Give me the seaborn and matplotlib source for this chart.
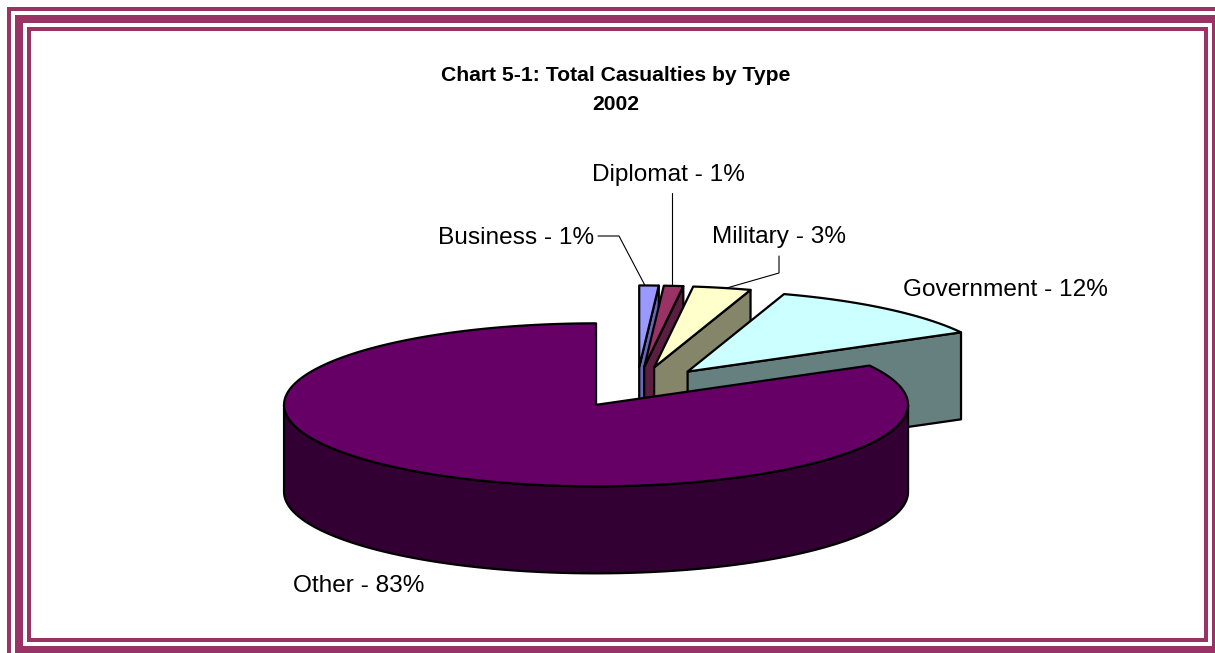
import numpy as np
import matplotlib
matplotlib.use("Agg")
import matplotlib.pyplot as plt
from matplotlib.patches import Polygon, Rectangle
import seaborn as sns

# ---- data -------------------------------------------------------------
categories = ["Business", "Diplomat", "Military", "Government", "Other"]
shares = [1, 1, 3, 12, 83]          # percent of total casualties, 2002
title_lines = ["Chart 5-1: Total Casualties by Type", "2002"]

top_colors = ["#9999FF", "#993366", "#FFFFCC", "#CCFFFF", "#660066"]
side_colors = ["#6868B6", "#5A1F40", "#858569", "#668080", "#330033"]
frame_color = "#993366"

# ---- style ------------------------------------------------------------
sns.set_theme(style="white")
plt.rcParams["font.family"] = ["Liberation Sans", "DejaVu Sans"]
top_pal = sns.color_palette(top_colors)
side_pal = sns.color_palette(side_colors)

W, H = 1215, 653
fig = plt.figure(figsize=(W / 100, H / 100), dpi=100)
ax = fig.add_axes([0, 0, 1, 1])
ax.set_xlim(0, W)
ax.set_ylim(H, 0)
ax.axis("off")

# ---- triple frame -----------------------------------------------------
def band(x0, y0, x1, y1, color, z):
    ax.add_patch(Rectangle((x0, y0), x1 - x0, y1 - y0, facecolor=color,
                           edgecolor="none", zorder=z, clip_on=False))

band(7, 7, 1232, 672, frame_color, 0)
band(11, 11, 1228, 668, "white", 0.1)
band(15, 15, 1220, 654, frame_color, 0.2)
band(23, 23, 1212, 646, "white", 0.3)
band(27, 27, 1208, 642, frame_color, 0.4)
band(31, 31, 1204, 638, "white", 0.5)

# ---- exploded 3-D pie -------------------------------------------------
CX, CY = 636.7, 387.3     # centre of the top ellipse before exploding
RX, RY = 312.0, 81.5      # ellipse radii
DEPTH = 87.0              # thickness of the pie
EXPLODE_X, EXPLODE_Y = 0.256, 0.25   # radial offset as a fraction of the radius
LW = 1.6

vals = np.asarray(shares, dtype=float)
bounds = np.concatenate([[0.0], np.cumsum(vals)]) / vals.sum() * 360.0


def rim(px, py, deg):
    t = np.radians(deg)
    return px + RX * np.sin(t), py - RY * np.cos(t)


def arc(px, py, d0, d1):
    n = max(int(abs(d1 - d0) * 2), 2)
    d = np.linspace(d0, d1, n)
    x, y = rim(px, py, d)
    return np.column_stack([x, y])


def face(points, color, z):
    ax.add_patch(Polygon(points, closed=True, facecolor=color,
                         edgecolor="black", linewidth=LW,
                         joinstyle="round", zorder=z))


apexes = []
for i, (t0, t1) in enumerate(zip(bounds[:-1], bounds[1:])):
    mid = np.radians((t0 + t1) / 2)
    px = CX + EXPLODE_X * RX * np.sin(mid)
    py = CY - EXPLODE_Y * RY * np.cos(mid)
    apexes.append((px, py))
    z = 2 + i

    # curved outer wall facing the viewer (front half of the ellipse)
    a0, a1 = max(t0, 90.0), min(t1, 270.0)
    if a1 > a0:
        upper = arc(px, py, a0, a1)
        lower = upper[::-1] + [0, DEPTH]
        face(np.vstack([upper, lower]), side_pal[i], z)

    # radial cut faces that turn toward the viewer
    for ang, visible in ((t1, np.sin(np.radians(t1)) > 1e-6),
                         (t0, np.sin(np.radians(t0)) < -1e-6)):
        if visible:
            rx, ry = rim(px, py, ang)
            face([(px, py), (rx, ry), (rx, ry + DEPTH), (px, py + DEPTH)],
                 side_pal[i], z + 0.1)

    # top surface
    top = np.vstack([[px, py], arc(px, py, t0, t1)])
    face(top, top_pal[i], z + 0.2)

# ---- labels -----------------------------------------------------------
LABEL_FS = 17.6
labels = [f"{c} - {v}%" for c, v in zip(categories, shares)]
label_pos = [(516, 238.5), (668.5, 175.5), (779, 236.5), (1005, 290.5),
             (359, 585.5)]
for txt, (lx, ly) in zip(labels, label_pos):
    ax.text(lx, ly, txt, fontsize=LABEL_FS, ha="center", va="center",
            color="black", zorder=20)


def rim_mid(i):
    px, py = apexes[i]
    return rim(px, py, (bounds[i] + bounds[i + 1]) / 2)


leader_kw = dict(color="black", linewidth=0.8, zorder=19)
bx, by = rim_mid(0)
ax.plot([598, 619, bx - 4], [236, 236, by], **leader_kw)
dx, dy = rim_mid(1)
ax.plot([dx - 2, dx - 2], [193, dy], **leader_kw)
mx, my = rim_mid(2)
ax.plot([779, 779, mx + 5], [256, 273, my], **leader_kw)

# ---- title ------------------------------------------------------------
ax.text(616, 75.5, title_lines[0], fontsize=15.2, fontweight="bold",
        ha="center", va="center", color="black", zorder=20)
ax.text(616, 104.5, title_lines[1], fontsize=15.2, fontweight="bold",
        ha="center", va="center", color="black", zorder=20)

fig.savefig("out.png", dpi=100)
